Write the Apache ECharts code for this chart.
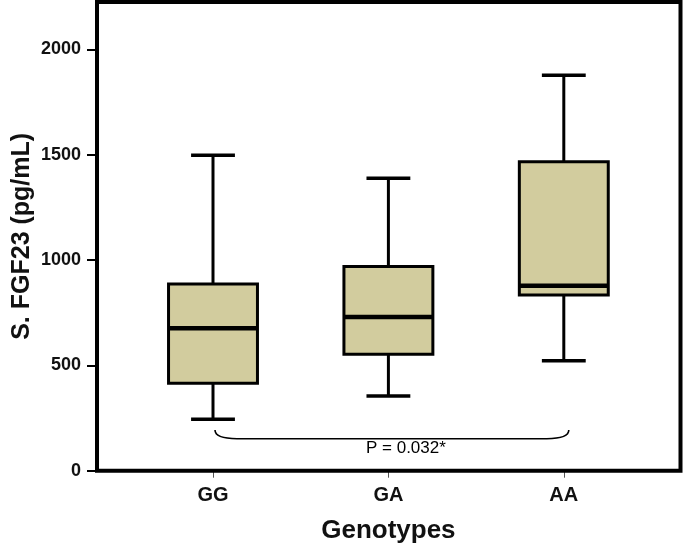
<!DOCTYPE html>
<html>
<head>
<meta charset="utf-8">
<script src="https://cdn.jsdelivr.net/npm/echarts@6/dist/echarts.min.js"></script>
<style>
html,body{margin:0;padding:0;background:#fff;}
#chart{width:685px;height:554px;}
</style>
</head>
<body>
<div id="chart"></div>
<script>
// ---- data ----
const categories = ['GG', 'GA', 'AA'];
const whiskerLow  = [244, 355, 522];
const q1Values    = [415, 553, 834];
const medians     = [676, 730, 878];
const q3Values    = [886, 969, 1467];
const whiskerHigh = [1498, 1388, 1877];
const yTicks      = [0, 500, 1000, 1500, 2000];
const pText       = 'P = 0.032*';

const FONT = "'Liberation Sans', Arial, sans-serif";
const boxData = categories.map((c, i) =>
  [i, whiskerLow[i], q1Values[i], medians[i], q3Values[i], whiskerHigh[i]]);

const chart = echarts.init(document.getElementById('chart'), null, {renderer: 'canvas'});

function renderBox(params, api) {
  const idx = api.value(0);
  const lo = api.coord([idx, api.value(1)]);
  const q1 = api.coord([idx, api.value(2)]);
  const md = api.coord([idx, api.value(3)]);
  const q3 = api.coord([idx, api.value(4)]);
  const hi = api.coord([idx, api.value(5)]);
  const band = api.size([1, 0])[0];
  const bw = band * 0.507;
  const cw = band * 0.25;
  const cx = lo[0];
  const stroke = '#000';
  return {
    type: 'group',
    children: [
      {type: 'line', shape: {x1: cx, y1: hi[1], x2: cx, y2: q3[1]}, style: {stroke, lineWidth: 3}},
      {type: 'line', shape: {x1: cx, y1: q1[1], x2: cx, y2: lo[1]}, style: {stroke, lineWidth: 3}},
      {type: 'line', shape: {x1: cx - cw / 2, y1: hi[1], x2: cx + cw / 2, y2: hi[1]}, style: {stroke, lineWidth: 3.5}},
      {type: 'line', shape: {x1: cx - cw / 2, y1: lo[1], x2: cx + cw / 2, y2: lo[1]}, style: {stroke, lineWidth: 3.5}},
      {type: 'rect', shape: {x: cx - bw / 2, y: q3[1], width: bw, height: q1[1] - q3[1]},
        style: {fill: '#d2cc9e', stroke, lineWidth: 3}},
      {type: 'line', shape: {x1: cx - bw / 2, y1: md[1], x2: cx + bw / 2, y2: md[1]}, style: {stroke, lineWidth: 4.5}}
    ]
  };
}

function renderBrace(params, api) {
  const a = api.coord([0, 193]);
  const b = api.coord([2, 193]);
  const bot = api.coord([0, 152])[1];
  const x0 = a[0] + 2, x1 = b[0] + 5, yTop = a[1];
  const r = 22;
  const path = `M${x0} ${yTop} Q${x0} ${bot} ${x0 + r} ${bot} L${x1 - r} ${bot} Q${x1} ${bot} ${x1} ${yTop}`;
  const txtY = api.coord([0, 108])[1];
  return {
    type: 'group',
    children: [
      {type: 'path', shape: {pathData: path}, style: {fill: null, stroke: '#000', lineWidth: 1.6}},
      {type: 'text', x: (x0 + x1) / 2 + 14, y: txtY,
        style: {text: pText, font: `17px ${FONT}`, fill: '#000', align: 'center', verticalAlign: 'middle'}}
    ]
  };
}

const option = {
  animation: false,
  backgroundColor: '#fff',
  grid: [
    {left: 125.3, right: 33.5, top: 2, bottom: 83.3, containLabel: false, outerBoundsMode: 'none'},
    {left: 97, right: 4.5, top: 2, bottom: 83.3, containLabel: false, outerBoundsMode: 'none',
      show: true, borderColor: '#000', borderWidth: 4, backgroundColor: 'transparent', z: 10}
  ],
  xAxis: [
    {
      type: 'category', gridIndex: 0, data: categories,
      axisLine: {show: false},
      axisTick: {show: true, alignWithLabel: true, length: 7, lineStyle: {color: '#555', width: 1}},
      axisLabel: {fontFamily: FONT, fontWeight: 'bold', fontSize: 20, color: '#111', margin: 15},
      name: 'Genotypes', nameLocation: 'middle', nameGap: 47, nameMoveOverlap: false,
      nameTextStyle: {fontFamily: FONT, fontWeight: 'bold', fontSize: 26, color: '#111'},
      splitLine: {show: false}
    },
    {type: 'value', gridIndex: 1, show: false, min: 0, max: 1}
  ],
  yAxis: [
    {
      type: 'value', gridIndex: 0, min: 0, max: 2225, offset: 28.3,
      axisLine: {show: false},
      axisTick: {show: true, length: 10, customValues: yTicks, lineStyle: {color: '#000', width: 2}},
      axisLabel: {customValues: yTicks, formatter: v => String(v), fontFamily: FONT, fontWeight: 'bold',
        fontSize: 18, color: '#111', margin: 16},
      splitLine: {show: false},
      name: 'S. FGF23 (pg/mL)', nameLocation: 'middle', nameGap: 62, nameMoveOverlap: false,
      nameTextStyle: {fontFamily: FONT, fontWeight: 'bold', fontSize: 25, color: '#111'}
    },
    {type: 'value', gridIndex: 1, show: false, min: 0, max: 1}
  ],
  series: [
    {type: 'custom', name: 'boxes', xAxisIndex: 0, yAxisIndex: 0, renderItem: renderBox,
      encode: {x: 0, y: [1, 2, 3, 4, 5]}, data: boxData, z: 2},
    {type: 'custom', name: 'brace', xAxisIndex: 0, yAxisIndex: 0, renderItem: renderBrace,
      data: [[0, 193]], z: 3, silent: true}
  ]
};
chart.setOption(option);
</script>
</body>
</html>
